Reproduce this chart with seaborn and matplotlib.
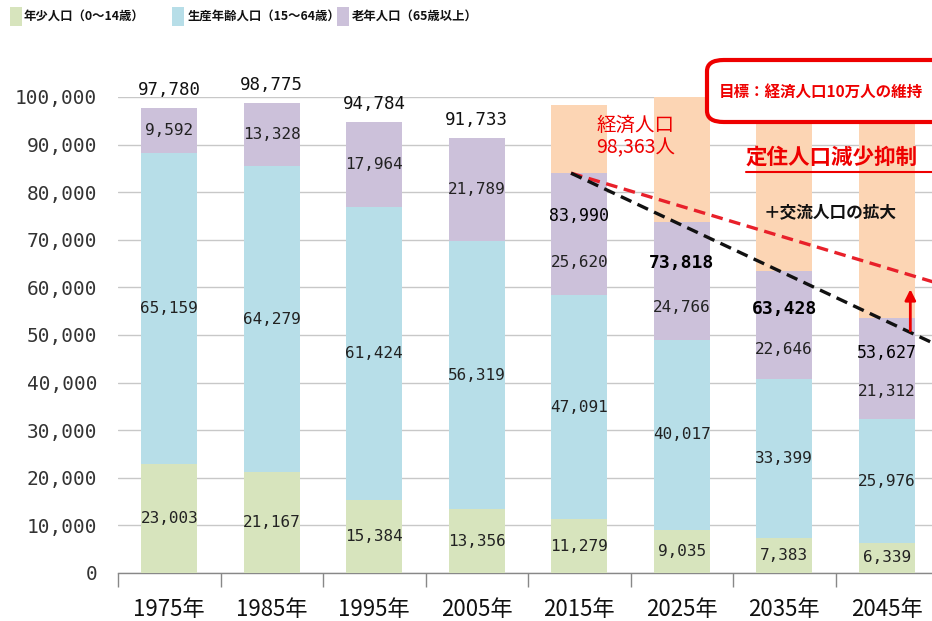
import numpy as np
import pandas as pd
import matplotlib
matplotlib.use("Agg")
import matplotlib.pyplot as plt
from matplotlib.patches import FancyBboxPatch, Rectangle
from matplotlib.lines import Line2D
import seaborn as sns

# ---------------- data ----------------
years = ["1975年", "1985年", "1995年", "2005年", "2015年", "2025年", "2035年", "2045年"]
young = [23003, 21167, 15384, 13356, 11279, 9035, 7383, 6339]
working = [65159, 64279, 61424, 56319, 47091, 40017, 33399, 25976]
elderly = [9592, 13328, 17964, 21789, 25620, 24766, 22646, 21312]
totals = [97780, 98775, 94784, 91733, 83990, 73818, 63428, 53627]
economic = [0, 0, 0, 0, 98363, 100000, 100000, 100000]
series_names = ["年少人口（0～14歳）", "生産年齢人口（15～64歳）", "老年人口（65歳以上）"]
trend_x = [3.92, 7.6]
trend_settled = [84000, 46800]
trend_target = [84000, 60200]

# ---------------- style ----------------
sns.set_theme(style="white")
plt.rcParams["font.family"] = ["Noto Sans CJK JP", "DejaVu Sans"]
C_YOUNG = "#D7E4BD"
C_WORK = "#B7DEE8"
C_OLD = "#CCC1DA"
C_ECON = "#FCD5B4"
RED = "#EE0000"

W, H = 932, 621
fig = plt.figure(figsize=(W / 100, H / 100), dpi=100)
ax_left, ax_right = 118, 938
ax_bottom, ax_top = 573, 97
ax = fig.add_axes([ax_left / W, 1 - ax_bottom / H, (ax_right - ax_left) / W, (ax_bottom - ax_top) / H])

df = pd.DataFrame({"year": years, "young": young, "working": working,
                   "elderly": elderly, "economic": economic})
young_a = np.array(young)
work_a = np.array(working)

bw = 0.55
sns.barplot(data=df, x="year", y="economic", color=C_ECON, width=bw, ax=ax,
            saturation=1, linewidth=0, zorder=2)
sns.barplot(data=df, x="year", y="young", color=C_YOUNG, width=bw, ax=ax,
            saturation=1, linewidth=0, zorder=3)
sns.barplot(data=df, x="year", y="working", color=C_WORK, width=bw, ax=ax,
            saturation=1, linewidth=0, bottom=young_a, zorder=3)
sns.barplot(data=df, x="year", y="elderly", color=C_OLD, width=bw, ax=ax,
            saturation=1, linewidth=0, bottom=young_a + work_a, zorder=3)

ax.set_xlim(-0.5, 7.5)
ax.set_ylim(0, 100000)
ax.set_xlabel("")
ax.set_ylabel("")
ax.set_yticks(np.arange(0, 100001, 10000))
ax.set_yticklabels([f"{v:,}" for v in range(0, 100001, 10000)],
                   family="DejaVu Sans Mono", fontsize=14, color="#333333")
ax.yaxis.grid(True, color="#C8C8C8", linewidth=1.0, zorder=0)
ax.set_axisbelow(True)
for s in ["top", "right", "left"]:
    ax.spines[s].set_visible(False)
ax.spines["bottom"].set_color("#888888")
ax.spines["bottom"].set_linewidth(1.0)
ax.tick_params(axis="y", length=0, pad=15)
ax.tick_params(axis="x", which="major", length=0, pad=18, labelsize=16, labelcolor="#111111")
ax.set_xticks(np.arange(-0.5, 8.0, 1.0), minor=True)
ax.tick_params(axis="x", which="minor", length=10, width=1.0, color="#888888", bottom=True)

# ---------------- value labels ----------------
lab_kw = dict(ha="center", va="center", family="DejaVu Sans Mono", fontsize=11.5,
              color="#222222", zorder=6)
for i in range(len(years)):
    ax.text(i, young[i] / 2, f"{young[i]:,}", **lab_kw)
    ax.text(i, young[i] + working[i] / 2, f"{working[i]:,}", **lab_kw)
    base = young[i] + working[i]
    if i < 4:
        ax.text(i, base + elderly[i] / 2, f"{elderly[i]:,}", **lab_kw)
        ax.text(i, base + elderly[i] + 1800, f"{totals[i]:,}", ha="center", va="bottom",
                family="DejaVu Sans Mono", fontsize=12.5, color="#111111", clip_on=False)
    else:
        ax.text(i, base + elderly[i] * 0.27, f"{elderly[i]:,}", **lab_kw)
        bold = i in (5, 6)
        ax.text(i, base + elderly[i] * 0.65, f"{totals[i]:,}", ha="center", va="center",
                family="DejaVu Sans Mono", fontsize=13 if bold else 12,
                fontweight="bold" if bold else "normal", color="#000000", zorder=6)

# ---------------- trend lines ----------------
ax.plot(trend_x, trend_target, linestyle=(0, (3.5, 2)), color="#E8202A", linewidth=2.4,
        zorder=5, clip_on=True)
ax.plot(trend_x, trend_settled, linestyle=(0, (3.5, 2)), color="#111111", linewidth=2.4,
        zorder=5, clip_on=True)
ax.annotate("", xy=(7.23, 60200), xytext=(7.23, 50300),
            arrowprops=dict(arrowstyle="-|>", color=RED, lw=2, mutation_scale=16),
            zorder=7)

# ---------------- annotations ----------------
ax.text(4.55, 91700, "経済人口\n98,363人", ha="center", va="center", color=RED,
        fontsize=14, linespacing=1.05, zorder=7)
ax.text(6.45, 75800, "＋交流人口の拡大", ha="center", va="center", color="#111111",
        fontsize=12, fontweight="bold", zorder=7)

# target box
box = FancyBboxPatch((707 / W, 1 - 122 / H), (960 - 707) / W, (122 - 60) / H,
                     boxstyle="round,pad=0,rounding_size=0.018",
                     transform=fig.transFigure, facecolor="white", edgecolor=RED,
                     linewidth=3, zorder=10, clip_on=False)
fig.patches.append(box)
fig.text(719 / W, 1 - 92 / H, "目標：経済人口10万人の維持", ha="left", va="center",
         color=RED, fontsize=11.2, fontweight="bold", zorder=11)

fig.text(746 / W, 1 - 157 / H, "定住人口減少抑制", ha="left", va="center",
         color=RED, fontsize=15.5, fontweight="bold", zorder=11)
fig.lines.append(Line2D([746 / W, 1.0], [1 - 172 / H, 1 - 172 / H], color=RED,
                        linewidth=1.5, transform=fig.transFigure))

# ---------------- legend ----------------
leg_pos = [(10, 24), (172, 188), (337, 352)]
leg_cols = [C_YOUNG, C_WORK, C_OLD]
for (sx, tx), col, name in zip(leg_pos, leg_cols, series_names):
    fig.patches.append(Rectangle((sx / W, 1 - 26 / H), 12 / W, 19 / H, facecolor=col,
                                 edgecolor="none", transform=fig.transFigure))
    fig.text(tx / W, 1 - 16 / H, name, ha="left", va="center", fontsize=8.9,
             color="#111111", fontweight="bold")

fig.savefig("out.png", dpi=100)
